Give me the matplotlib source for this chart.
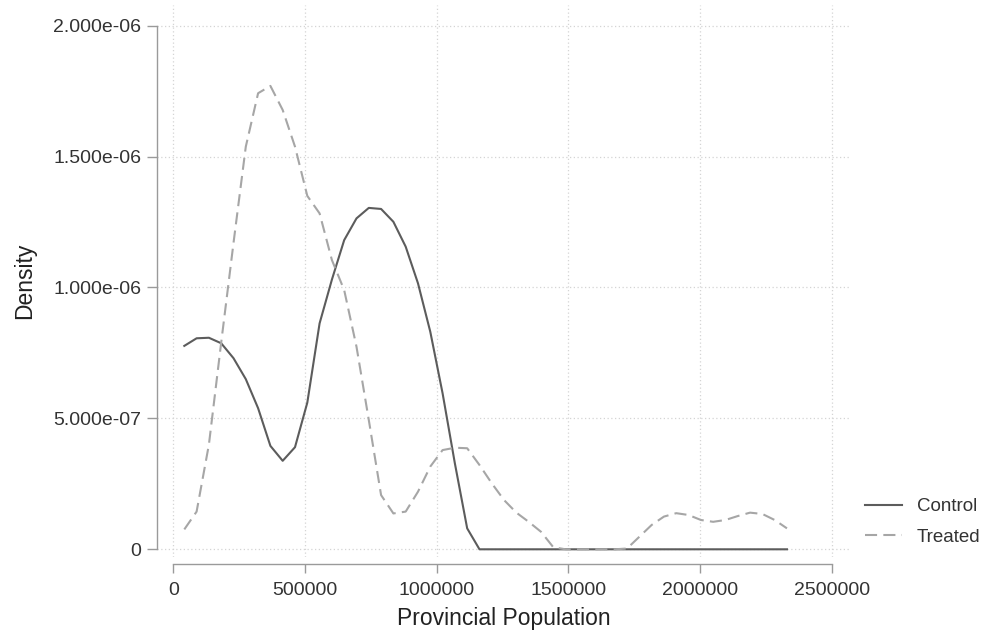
import numpy as np
import matplotlib
matplotlib.use("Agg")
import matplotlib.pyplot as plt

plt.rcParams['font.family'] = ['Liberation Sans', 'DejaVu Sans']

# evaluation points of the kernel density (provincial population)
pop_grid = [41800, 88500, 135200, 181900, 228600, 275300, 322000, 368700,
            415400, 462100, 508800, 555500, 602200, 648900, 695600, 742300,
            789000, 835700, 882400, 929100, 975800, 1022500, 1069200, 1115900,
            1162600, 1209300, 1256000, 1302700, 1349400, 1396100, 1442800,
            1489500, 1536200, 1582900, 1629600, 1676300, 1723000, 1769700,
            1816400, 1863100, 1909800, 1956500, 2003200, 2049900, 2096600,
            2143300, 2190000, 2236700, 2283400, 2330100]

# density estimates, in units of 1e-6
control_dens = [0.777, 0.806, 0.808, 0.787, 0.730, 0.650, 0.539, 0.395,
                0.338, 0.390, 0.560, 0.863, 1.030, 1.181, 1.264, 1.304,
                1.300, 1.251, 1.156, 1.016, 0.831, 0.596, 0.328, 0.080,
                0.0, 0.0, 0.0, 0.0, 0.0, 0.0, 0.0, 0.0, 0.0, 0.0, 0.0, 0.0,
                0.0, 0.0, 0.0, 0.0, 0.0, 0.0, 0.0, 0.0, 0.0, 0.0, 0.0, 0.0,
                0.0, 0.0]
treated_dens = [0.076, 0.144, 0.400, 0.790, 1.170, 1.538, 1.742, 1.770,
                1.678, 1.538, 1.350, 1.283, 1.105, 0.990, 0.774, 0.494,
                0.207, 0.137, 0.144, 0.220, 0.316, 0.379, 0.388, 0.386,
                0.322, 0.252, 0.188, 0.140, 0.105, 0.067, 0.008, 0.0, 0.0,
                0.0, 0.0, 0.0, 0.003, 0.048, 0.093, 0.125, 0.138, 0.131,
                0.112, 0.105, 0.112, 0.127, 0.140, 0.135, 0.112, 0.080]

x_ticks = [0, 500000, 1000000, 1500000, 2000000, 2500000]
x_ticklabels = ["0", "500000", "1000000", "1500000", "2000000", "2500000"]
y_ticks = [0, 5e-7, 1e-6, 1.5e-6, 2e-6]
y_ticklabels = ["0", "5.000e-07", "1.000e-06", "1.500e-06", "2.000e-06"]

x = np.array(pop_grid)
yc = np.array(control_dens) * 1e-6
yt = np.array(treated_dens) * 1e-6

W, H = 984, 633
fig = plt.figure(figsize=(W / 100, H / 100), dpi=100)
ax = fig.add_axes([157.3 / W, (H - 557) / H, (850 - 157.3) / W, (557 - 5) / H])

axis_col = '#9a9a9a'
text_col = '#333333'

ax.plot(x, yc, color='#5c5c5c', lw=1.5, label='Control', zorder=3)
ax.plot(x, yt, color='#a6a6a6', lw=1.5, ls=(0, (5.8, 3.0)), label='Treated', zorder=3)

ax.set_xlim(-60740, 2569500)
ax.set_ylim(-0.0294e-6, 2.079e-6)

ax.set_xticks(x_ticks)
ax.set_xticklabels(x_ticklabels)
ax.set_yticks(y_ticks)
ax.set_yticklabels(y_ticklabels)

ax.grid(True, color='#d4d4d4', ls=(0, (1, 2)), lw=0.9, zorder=0)

for s in ['top', 'right']:
    ax.spines[s].set_visible(False)
ax.spines['left'].set_bounds(0, 2e-6)
ax.spines['bottom'].set_bounds(0, 2500000)
ax.spines['bottom'].set_position(('outward', 5))
for s in ['left', 'bottom']:
    ax.spines[s].set_color(axis_col)
    ax.spines[s].set_linewidth(1.0)

ax.tick_params(axis='both', colors=axis_col, labelcolor=text_col,
               labelsize=14, width=1.0)
ax.tick_params(axis='y', length=7.2, pad=4.5)
ax.tick_params(axis='x', length=6.5, pad=6.5)

ax.set_xlabel("Provincial Population", fontsize=16.5, color='#222222', labelpad=6)
ax.set_ylabel("Density", fontsize=16.5, color='#222222', labelpad=12)

leg = ax.legend(loc='center left', bbox_to_anchor=(865 / W, 111 / H),
                bbox_transform=fig.transFigure, frameon=False, fontsize=13.5,
                handlelength=1.97, handletextpad=0.8, borderpad=0,
                borderaxespad=0, labelspacing=0.7)
for t in leg.get_texts():
    t.set_color(text_col)

fig.savefig("out.png", dpi=100)
